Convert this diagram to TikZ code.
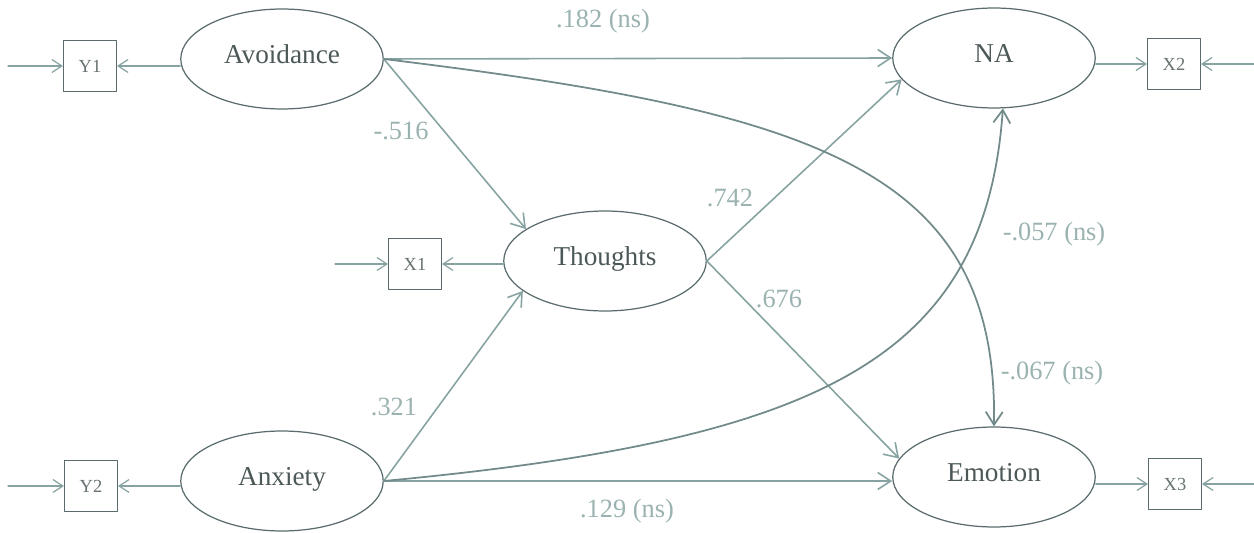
\documentclass[tikz,border=0pt]{standalone}
\usepackage{fontspec}
\setmainfont{Liberation Serif}
\usepackage{xcolor}
\usepackage{tikz}
\usetikzlibrary{arrows.meta,positioning,shapes.geometric}
\definecolor{semInk}{HTML}{4C5858}
\definecolor{semEdge}{HTML}{5A6B6D}
\definecolor{semLine}{HTML}{86A3A2}
\definecolor{semMuted}{HTML}{9AB2B0}
\tikzset{
  sem diagram/.style={x=0.02cm, y=-0.02cm, text=semInk,
    line cap=round, line join=round},
  sem latent/.style={ellipse, draw=semEdge, line width=0.7pt,
    minimum width=4.05cm, minimum height=2cm, inner sep=0pt,
    text height=11pt, text depth=5.6pt,
    font=\fontsize{15.5}{18}\selectfont},
  sem box/.style={draw=semEdge, line width=0.6pt, minimum width=1.06cm,
    minimum height=1.02cm, inner sep=0pt,
    font=\fontsize{10.5}{12}\selectfont, text=semInk!85},
  sem arrow/.style={-{Straight Barb[length=2.6mm,width=3.4mm]},
    draw=semLine, line width=0.9pt},
  sem curve/.style={sem arrow, draw=semLine!85!black, line width=1pt},
  sem err/.style={-{Straight Barb[length=2mm,width=2.6mm]},
    draw=semLine, line width=0.7pt},
  sem label/.style={font=\fontsize{15}{18}\selectfont, text=semMuted}
}
\begin{document}
\begin{tikzpicture}[sem diagram]
\useasboundingbox (0,0) rectangle (1254,533);
% latent variables
\node[sem latent] (avoid) at (282,59) {Avoidance};
\node[sem latent] (na) at (994,58) {NA};
\node[sem latent] (thoughts) at (605,261) {Thoughts};
\node[sem latent] (anx) at (282,481) {Anxiety};
\node[sem latent] (emo) at (994,477) {Emotion};
% indicators
\node[sem box] (y1) at (90,66) {Y1};
\node[sem box] (x2) at (1174,64) {X2};
\node[sem box] (x1) at (415,264) {X1};
\node[sem box] (y2) at (91,486) {Y2};
\node[sem box] (x3) at (1175,484) {X3};
\coordinate (y1 in) at (8,66);
\coordinate (x2 in) at (1254,64);
\coordinate (x1 in) at (335,264);
\coordinate (y2 in) at (8,486);
\coordinate (x3 in) at (1254,484);
\draw[sem err] (y1 in) -- (y1);
\draw[sem err] (avoid.west |- y1) -- (y1);
\draw[sem err] (x2 in) -- (x2);
\draw[sem err] (na.east |- x2) -- (x2);
\draw[sem err] (x1 in) -- (x1);
\draw[sem err] (thoughts.west |- x1) -- (x1);
\draw[sem err] (y2 in) -- (y2);
\draw[sem err] (anx.west |- y2) -- (y2);
\draw[sem err] (x3 in) -- (x3);
\draw[sem err] (emo.east |- x3) -- (x3);
% paths
\draw[sem arrow] (avoid.east) -- (na.west);
\draw[sem arrow] (avoid.east) -- (thoughts.158);
\draw[sem arrow] (anx.east) -- (thoughts.200);
\draw[sem arrow] (anx.east) -- (emo.west |- anx.east);
\draw[sem arrow] (thoughts.east) -- (na.193);
\draw[sem arrow] (thoughts.east) -- (emo.169);
\draw[sem curve] (avoid.east) .. controls (820,112) and (998,170) .. (emo.north);
\draw[sem curve] (anx.east) .. controls (820,440) and (985,360) .. (na.-80);
% coefficients
\node[sem label] (c182) at (603,21) {.182 (ns)};
\node[sem label] (c516) at (401,131) {-.516};
\node[sem label] (c742) at (730,198) {.742};
\node[sem label] (c676) at (779,299) {.676};
\node[sem label] (c057) at (1054,234) {-.057 (ns)};
\node[sem label] (c067) at (1052,373) {-.067 (ns)};
\node[sem label] (c321) at (394,407) {.321};
\node[sem label] (c129) at (627,511) {.129 (ns)};
\end{tikzpicture}
\end{document}
